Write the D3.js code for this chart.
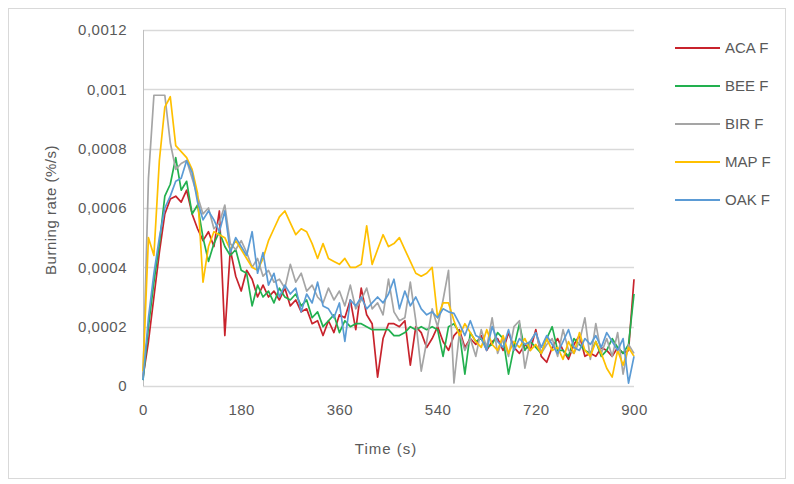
<!DOCTYPE html>
<html>
<head>
<meta charset="utf-8">
<script src="https://cdn.jsdelivr.net/npm/d3@7"></script>
<style>
  body { margin: 0; background: #fff; }
  text { font-family: "Liberation Sans", Arial, sans-serif; fill: #595959; }
</style>
</head>
<body>
<div id="chart"></div>
<script>
// burning rate, in units of 1e-4 %/s, sampled every 10 s
const times = d3.range(0, 901, 10);
const seriesNames = ["ACA F", "BEE F", "BIR F", "MAP F", "OAK F"];
const seriesColors = ["#c8232c", "#22b04f", "#a5a5a5", "#ffc000", "#5b9bd5"];
const xTicks = [0, 180, 360, 540, 720, 900];
const yTicks = [0, 0.0002, 0.0004, 0.0006, 0.0008, 0.001, 0.0012];
const yTickLabels = ["0", "0,0002", "0,0004", "0,0006", "0,0008", "0,001", "0,0012"];

const aca = [0.3,1.5,3.0,4.5,5.8,6.3,6.4,6.2,6.6,5.8,
  5.3,4.9,5.2,4.7,5.9,1.7,4.6,3.7,3.2,3.9,
  3.6,3.0,3.4,3.0,3.2,2.9,3.3,2.7,2.9,2.5,
  2.6,2.1,2.2,1.7,2.2,1.8,2.4,2.3,2.9,1.9,
  3.3,2.4,2.1,0.3,1.6,2.1,2.1,2.0,2.2,0.7,
  2.0,1.8,1.3,1.6,2.0,1.5,1.2,1.7,1.9,1.3,
  1.6,1.4,1.7,1.2,1.5,1.6,1.2,1.8,1.3,1.1,
  1.4,1.2,1.9,1.0,0.8,1.3,1.6,1.2,0.9,1.4,
  1.7,1.0,1.1,1.0,1.3,1.2,1.0,1.3,1.1,1.2,3.6];
const bee = [0.2,2.0,3.5,4.8,6.4,6.8,7.7,6.6,6.9,5.8,
  6.1,5.0,4.2,4.8,5.2,4.7,4.4,4.6,3.9,3.8,
  2.7,3.4,3.0,3.2,2.8,3.3,3.0,2.9,3.1,2.7,
  2.9,2.3,2.5,2.0,2.2,2.4,1.8,2.2,2.0,2.1,
  2.1,2.0,1.9,1.9,1.9,1.9,1.7,1.7,1.8,2.0,
  1.9,2.0,1.9,2.0,1.9,1.0,2.0,2.1,1.8,0.4,
  1.8,1.5,1.6,1.3,1.4,1.8,1.6,0.4,1.3,2.1,
  1.2,1.5,1.3,1.1,1.6,2.0,1.2,1.2,1.0,1.6,
  1.4,1.2,1.1,1.5,1.0,1.2,1.6,1.3,1.1,1.4,3.1];
const bir = [0.3,7.0,9.8,9.8,9.8,8.2,7.3,7.5,7.6,7.0,
  6.4,5.8,6.0,5.3,5.5,6.1,4.8,4.6,4.9,4.5,
  4.0,4.3,3.7,3.9,3.5,3.6,3.3,4.1,3.5,3.8,
  3.2,3.4,3.0,2.8,3.3,2.9,3.2,2.7,3.4,2.6,
  2.9,3.3,2.6,2.8,2.4,3.6,2.5,2.2,2.3,3.5,
  2.2,0.5,1.5,2.6,2.0,2.9,3.9,0.1,1.8,1.2,
  1.6,1.0,1.9,1.3,2.3,1.1,1.6,1.0,2.0,2.2,
  0.6,1.5,1.8,1.1,1.4,1.6,1.0,1.9,1.2,1.1,
  1.5,2.3,0.9,2.1,1.1,1.6,1.0,1.8,0.4,1.4,1.1];
const map = [0.5,5.0,4.4,7.6,9.4,9.75,8.1,7.9,7.7,7.3,
  6.5,3.5,4.7,5.2,5.1,5.0,4.6,4.9,4.6,4.3,
  4.0,3.9,4.3,4.9,5.3,5.7,5.9,5.5,5.1,5.3,
  5.2,4.8,4.3,4.8,4.3,4.2,4.1,4.3,4.0,4.0,
  4.1,5.4,4.1,4.6,5.1,4.7,4.8,5.0,4.6,4.2,
  3.8,3.7,3.8,4.0,2.3,2.8,2.8,2.2,1.7,2.1,
  1.8,1.5,1.3,1.9,1.4,1.2,1.7,1.1,1.5,1.3,
  1.6,1.2,1.4,1.1,1.6,1.2,1.3,0.9,1.5,1.1,
  1.8,1.2,1.0,1.5,1.1,0.6,0.3,1.2,0.7,1.3,1.0];
const oak = [0.2,2.3,3.8,5.0,6.0,6.4,6.9,7.0,7.6,7.2,
  6.2,5.6,5.9,5.6,5.2,5.9,4.5,5.0,4.7,4.4,
  5.2,3.8,4.5,3.4,3.8,3.0,3.4,3.1,3.3,2.5,
  3.1,2.8,3.5,2.7,2.6,2.3,2.8,1.5,2.9,2.7,
  3.0,2.6,2.8,3.0,2.8,3.1,3.6,2.6,3.2,2.7,
  3.0,2.6,2.4,2.5,2.3,2.6,2.5,2.45,2.1,1.7,
  2.2,1.7,1.6,1.2,2.0,1.5,1.3,1.9,1.2,1.6,
  1.4,1.5,1.8,1.3,1.7,1.4,1.1,1.5,1.9,1.3,
  1.2,1.6,1.4,1.7,1.3,1.8,1.5,1.2,1.6,0.1,1.0];
const seriesValues = [aca, bee, bir, map, oak];
const unit = 1e-4;

const W = 794, H = 484;
const plot = { left: 143, right: 634, top: 30, bottom: 386 };

const svg = d3.select("#chart")
  .append("svg")
    .attr("width", W)
    .attr("height", H);

// outer chart border
svg.append("rect")
  .attr("x", 8.5).attr("y", 8.5)
  .attr("width", 777).attr("height", 470)
  .attr("fill", "#fff")
  .attr("stroke", "#d9d9d9");

const x = d3.scaleLinear().domain([0, 900]).range([plot.left, plot.right]);
const y = d3.scaleLinear().domain([0, 0.0012]).range([plot.bottom, plot.top]);

// horizontal gridlines
svg.append("g")
  .selectAll("line")
  .data(yTicks)
  .enter()
  .append("line")
    .attr("x1", plot.left).attr("x2", plot.right)
    .attr("y1", d => Math.round(y(d)) + 0.5)
    .attr("y2", d => Math.round(y(d)) + 0.5)
    .attr("stroke", "#d9d9d9")
    .attr("stroke-width", 1.3);

// left axis line
svg.append("line")
  .attr("x1", plot.left + 0.5).attr("x2", plot.left + 0.5)
  .attr("y1", plot.top).attr("y2", plot.bottom)
  .attr("stroke", "#bfbfbf");

// y tick labels
const yAxis = d3.axisLeft(y).tickValues(yTicks)
  .tickFormat((d, i) => yTickLabels[i]).tickSize(0).tickPadding(16);
svg.append("g")
  .attr("transform", `translate(${plot.left},0)`)
  .call(yAxis)
  .call(g => g.select(".domain").remove())
  .selectAll("text")
    .style("font-size", "15px")
    .style("letter-spacing", "0.5px")
    .style("fill", "#595959")
    .style("font-family", "Liberation Sans, Arial, sans-serif");

// x tick labels
const xAxis = d3.axisBottom(x).tickValues(xTicks).tickSize(0).tickPadding(18);
svg.append("g")
  .attr("transform", `translate(0,${plot.bottom})`)
  .call(xAxis)
  .call(g => g.select(".domain").remove())
  .selectAll("text")
    .style("font-size", "15px")
    .style("letter-spacing", "0.5px")
    .style("fill", "#595959")
    .style("font-family", "Liberation Sans, Arial, sans-serif");

// axis titles
svg.append("text")
  .attr("text-anchor", "middle")
  .attr("x", 386)
  .attr("y", 454)
  .style("font-size", "15px")
  .style("letter-spacing", "1px")
  .text("Time (s)");

svg.append("text")
  .attr("text-anchor", "middle")
  .attr("transform", "rotate(-90)")
  .attr("x", -210)
  .attr("y", 56)
  .style("font-size", "15px")
  .style("letter-spacing", "0.5px")
  .text("Burning rate (%/s)");

// lines
const line = d3.line()
  .x((d, i) => x(times[i]))
  .y(d => y(d * unit));

svg.append("g")
  .selectAll("path")
  .data(seriesValues)
  .enter()
  .append("path")
    .attr("d", d => line(d))
    .attr("fill", "none")
    .attr("stroke", (d, i) => seriesColors[i])
    .attr("stroke-width", 1.7)
    .attr("stroke-linejoin", "round");

// legend
const legend = svg.append("g")
  .selectAll("g")
  .data(seriesNames)
  .enter()
  .append("g")
    .attr("transform", (d, i) => `translate(675,${48 + i * 38})`);

legend.append("line")
  .attr("x1", 0).attr("x2", 45)
  .attr("stroke", (d, i) => seriesColors[i])
  .attr("stroke-width", 2);

legend.append("text")
  .attr("x", 50)
  .attr("dy", "0.35em")
  .style("font-size", "15px")
  .text(d => d);
</script>
</body>
</html>
